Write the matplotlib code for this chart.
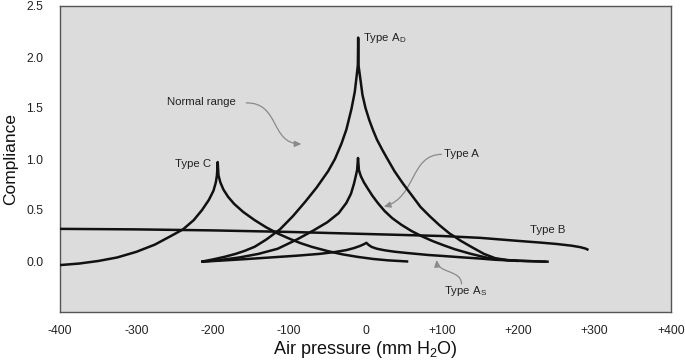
import matplotlib
matplotlib.use("Agg")
import matplotlib.pyplot as plt
from matplotlib.path import Path
from matplotlib.patches import FancyArrowPatch

plt.rcParams.update({
    "font.family": ["Liberation Sans", "DejaVu Sans"],
    "axes.edgecolor": "#555555",
    "axes.linewidth": 1.0,
    "xtick.color": "#222222",
    "ytick.color": "#222222",
})

# -------- Data --------
x_ticks = [-400, -300, -200, -100, 0, 100, 200, 300, 400]
x_tick_labels = ["-400", "-300", "-200", "-100", "0", "+100", "+200", "+300", "+400"]
y_ticks = [0.0, 0.5, 1.0, 1.5, 2.0, 2.5]
y_tick_labels = ["0.0", "0.5", "1.0", "1.5", "2.0", "2.5"]

# Type A_D (deep peak)
ad_x = [-215, -200, -185, -170, -158, -145, -130, -112, -95, -79, -64, -49, -40, -31.5,
        -25, -18.4, -14, -11.5, -10, -9.6, -9.2, -7, -4, 0, 5, 10, 15, 22, 28, 38, 49,
        60, 72, 84, 97, 110, 117, 125, 137, 143, 155, 170, 185, 200]
ad_y = [-0.007, 0.015, 0.04, 0.07, 0.10, 0.14, 0.21, 0.31, 0.44, 0.58, 0.72, 0.88, 1.0, 1.15,
        1.29, 1.49, 1.66, 1.82, 1.92, 2.19, 1.92, 1.80, 1.63, 1.50, 1.38, 1.28, 1.19, 1.09,
        1.01, 0.88, 0.76, 0.65, 0.53, 0.44, 0.35, 0.27, 0.237, 0.197, 0.145, 0.12, 0.07,
        0.027, 0.01, 0.0]

# Type A (normal)
a_x = [-215, -190, -165, -140, -115, -90, -68, -50, -35, -25, -19, -15, -12.5, -11,
       -9.8, -8.6, -6, -2, 3, 9, 16, 25, 35, 47, 60, 73, 88, 102, 117, 137, 160, 185,
       210, 237]
a_y = [-0.007, 0.01, 0.035, 0.07, 0.12, 0.21, 0.30, 0.38, 0.47, 0.57, 0.66, 0.76, 0.84,
       0.89, 1.01, 0.89, 0.83, 0.77, 0.71, 0.64, 0.57, 0.49, 0.42, 0.355, 0.295, 0.245,
       0.195, 0.155, 0.115, 0.072, 0.03, 0.008, 0.0, -0.007]

# Type A_S (shallow)
as_x = [-215, -180, -150, -120, -90, -60, -40, -25, -15, -7, -2, 1.2, 4, 8, 15, 25, 38,
        55, 82, 100, 126, 150, 170, 200, 240]
as_y = [-0.007, 0.008, 0.022, 0.037, 0.052, 0.07, 0.088, 0.107, 0.127, 0.148, 0.165,
        0.178, 0.158, 0.138, 0.12, 0.105, 0.091, 0.078, 0.059, 0.05, 0.036, 0.024, 0.012,
        0.002, -0.007]

# Type B (flat)
b_x = [-400, -300, -200, -100, 0, 100, 150, 200, 230, 250, 270, 281, 288, 292]
b_y = [0.315, 0.31, 0.30, 0.285, 0.265, 0.245, 0.227, 0.197, 0.18, 0.167, 0.15, 0.136,
       0.122, 0.108]

# Type C (negative pressure)
c_x = [-400, -375, -350, -325, -300, -276, -256, -239, -225, -214, -205, -199, -196,
       -194.5, -193.5, -192.5, -190, -186, -180, -172, -160, -145, -130, -115, -100,
       -85, -70, -50, -30, -10, 10, 30, 56]
c_y = [-0.04, -0.025, 0.0, 0.035, 0.09, 0.16, 0.24, 0.31, 0.40, 0.50, 0.60, 0.69, 0.77,
       0.84, 0.97, 0.84, 0.77, 0.70, 0.63, 0.56, 0.48, 0.40, 0.33, 0.27, 0.22, 0.175,
       0.138, 0.098, 0.065, 0.04, 0.02, 0.006, -0.005]

curves = [(ad_x, ad_y), (a_x, a_y), (as_x, as_y), (b_x, b_y), (c_x, c_y)]

# -------- Figure --------
fig = plt.figure(figsize=(6.85, 3.62), dpi=100)
ax = fig.add_axes([60 / 685, 50 / 362, 611 / 685, 306 / 362])
ax.set_facecolor("#dcdcdc")

for cx, cy in curves:
    ax.plot(cx, cy, color="#111111", linewidth=1.8, solid_joinstyle="round",
            solid_capstyle="butt", zorder=3)

ax.set_xlim(-400, 400)
ax.set_ylim(-0.5, 2.5)
ax.set_xticks(x_ticks)
ax.set_xticklabels(x_tick_labels)
ax.set_yticks(y_ticks)
ax.set_yticklabels(y_tick_labels)
ax.tick_params(axis="both", length=0, labelsize=8.7)
ax.tick_params(axis="y", pad=12)
ax.tick_params(axis="x", pad=9)
ax.set_xlabel(r"Air pressure (mm H$_\mathregular{2}$O)", fontsize=13, labelpad=2,
              color="#111111")
ax.set_ylabel("Compliance", fontsize=12.5, labelpad=6, color="#111111")

# -------- Labels --------
lab = dict(fontsize=8.2, color="#222222")
ax.text(-3, 2.157, r"Type A$_\mathregular{D}$", ha="left", va="baseline", **lab)
ax.text(-202, 0.95, "Type C", ha="right", va="center", **lab)
ax.text(-260, 1.56, "Normal range", ha="left", va="center", **lab)
ax.text(102.5, 1.046, "Type A", ha="left", va="center", **lab)
ax.text(216, 0.304, "Type B", ha="left", va="center", **lab)
ax.text(103, -0.324, r"Type A$_\mathregular{S}$", ha="left", va="baseline", **lab)


def curly_arrow(p0, p1, p2, p3):
    path = Path([p0, p1, p2, p3], [Path.MOVETO, Path.CURVE4, Path.CURVE4, Path.CURVE4])
    arr = FancyArrowPatch(path=path, arrowstyle="-|>,head_length=4,head_width=1.8",
                          color="#8a8a8a", linewidth=0.9, mutation_scale=1, zorder=2)
    ax.add_patch(arr)


curly_arrow((-156, 1.55), (-112, 1.554), (-125, 1.153), (-84, 1.147))
curly_arrow((99.5, 1.046), (58, 1.039), (67, 0.63), (24, 0.532))
curly_arrow((125.7, -0.225), (125.7, -0.088), (95, -0.12), (93, 0.01))

fig.savefig("out.png", dpi=100)
